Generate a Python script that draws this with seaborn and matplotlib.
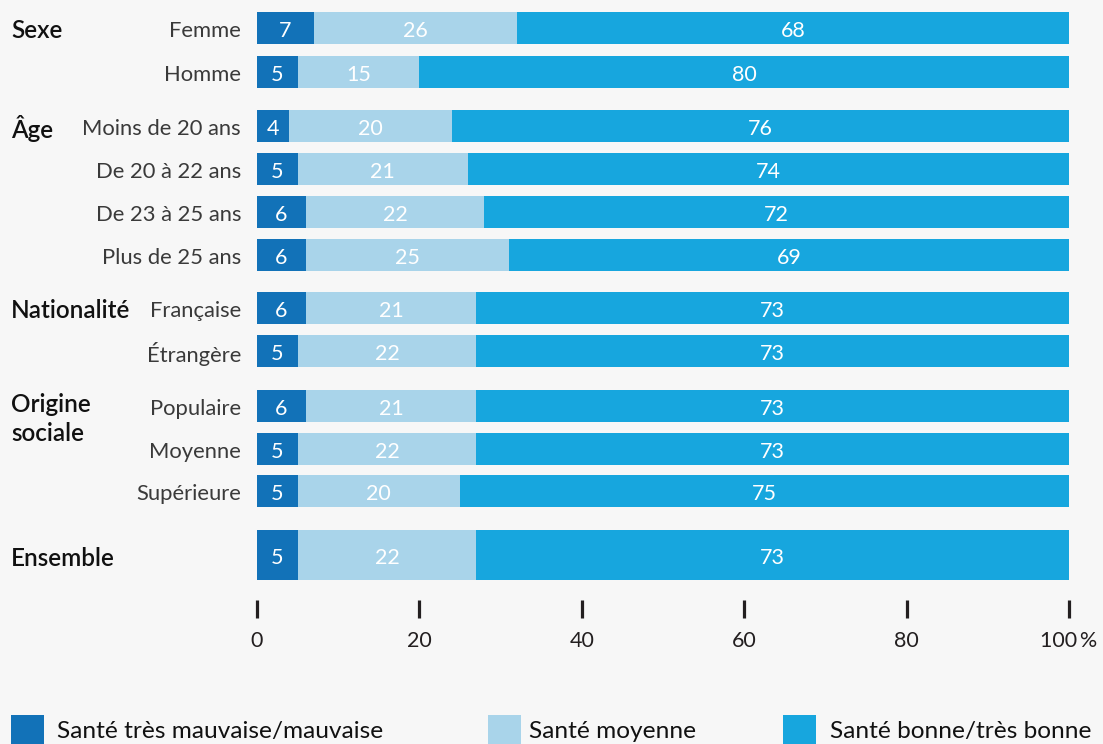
import numpy as np
import pandas as pd
import matplotlib
matplotlib.use("Agg")
import matplotlib.pyplot as plt
import seaborn as sns
from matplotlib.patches import Rectangle

# ---- data ----
categories = ["Femme", "Homme", "Moins de 20 ans", "De 20 à 22 ans", "De 23 à 25 ans",
              "Plus de 25 ans", "Française", "Étrangère", "Populaire", "Moyenne",
              "Supérieure", "Ensemble"]
bad = [7, 5, 4, 5, 6, 6, 6, 5, 6, 5, 5, 5]
mid = [26, 15, 20, 21, 22, 25, 21, 22, 21, 22, 20, 22]
good = [68, 80, 76, 74, 72, 69, 73, 73, 73, 73, 75, 73]
groups = [("Sexe", "Femme"), ("Âge", "Moins de 20 ans"), ("Nationalité", "Française"),
          ("Origine\nsociale", "Populaire"), ("Ensemble", "Ensemble")]
series_names = ["Santé très mauvaise/mauvaise", "Santé moyenne", "Santé bonne/très bonne"]
xticks = [0, 20, 40, 60, 80, 100]
xticklabels = ["0", "20", "40", "60", "80", "100\u2009%"]

# ---- layout (vertical positions in pixel-like units) ----
ypos = [28, 72, 126, 169, 212, 255, 308, 351, 406, 449, 491, 555]
colors = ["#1272b8", "#a9d4ea", "#17a6de"]
BG = "#f7f7f7"

df = pd.DataFrame({"cat": categories, "bad": bad, "mid": mid, "good": good, "y": ypos})
df["full"] = 100
df["light_end"] = 100 - df["good"]

sns.set_theme(style="white")
FONT = "Lato"
plt.rcParams["font.family"] = [FONT, "DejaVu Sans"]

W, H = 1103, 744
fig = plt.figure(figsize=(W / 100, H / 100), dpi=100, facecolor=BG)
left_px, right_px, top_px, bottom_px = 257, 1069, 0, 600
ax = fig.add_axes([left_px / W, 1 - bottom_px / H, (right_px - left_px) / W, (bottom_px - top_px) / H])
ax.set_facecolor(BG)

main = df[df["cat"] != "Ensemble"]
ens = df[df["cat"] == "Ensemble"]
min_gap = np.min(np.diff(np.sort(main["y"].values)))

for sub, wd in [(main, 32 / min_gap), (ens, 50.0)]:
    for col, c in [("full", colors[2]), ("light_end", colors[1]), ("bad", colors[0])]:
        sns.barplot(data=sub, x=col, y="y", orient="y", native_scale=True,
                    width=wd, color=c, saturation=1, errorbar=None,
                    linewidth=0, ax=ax)

ax.set_xlim(0, 100)
ax.set_ylim(bottom_px, top_px)
for s in ax.spines.values():
    s.set_visible(False)
ax.set_xlabel("")
ax.set_ylabel("")
ax.set_yticks([])
ax.set_xticks(xticks)
ax.set_xticklabels(xticklabels, fontsize=15.5, color="#231f20")
ax.tick_params(axis="x", bottom=True, length=13, width=2.3, color="#231f20",
               direction="out", pad=9)

DY = 3  # text baseline correction
# value labels
for _, r in df.iterrows():
    b, le = r["bad"], r["light_end"]
    kw = dict(color="white", fontsize=15.5, ha="center", va="center")
    yy = r["y"] + DY
    ax.text(b / 2, yy, str(r["bad"]), **kw)
    ax.text(b + (le - b) / 2, yy, str(r["mid"]), **kw)
    ax.text(100 - r["good"] / 2, yy, str(r["good"]), **kw)

# category labels
px_per_unit = (right_px - left_px) / 100
for _, r in df.iterrows():
    if r["cat"] == "Ensemble":
        continue
    ax.text(-(left_px - 241) / px_per_unit, r["y"] + DY, r["cat"], ha="right", va="center",
            fontsize=15.8, color="#3a3a3a", clip_on=False)

# group labels
ymap = dict(zip(categories, ypos))
for g, first in groups:
    yy = ymap[first] + DY
    va = "center"
    if "\n" in g:
        va = "top"
        yy = ymap[first] - 13
    ax.text(-(left_px - 11) / px_per_unit, yy, g, ha="left", va=va, fontsize=17.5,
            color="#111111", fontweight="semibold", clip_on=False, linespacing=1.3)

# legend
leg_x = [(11, 57), (488, 529), (783, 830)]
for (sx, tx), c, name in zip(leg_x, colors, series_names):
    fig.patches.append(Rectangle((sx / W, 0), 33 / W, 29 / H, transform=fig.transFigure,
                                 facecolor=c, edgecolor="none"))
    fig.text(tx / W, 1 - 738 / H, name, ha="left", va="baseline", fontsize=17.6, color="#111111")

fig.savefig("out.png", dpi=100, facecolor=BG)
